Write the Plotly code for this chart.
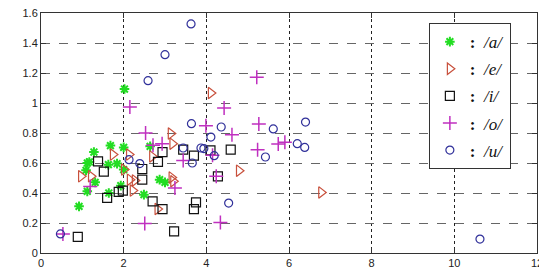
import plotly.graph_objects as go

# /a/ (green asterisks)
a_x = [2.02, 1.68, 2.00, 1.28, 2.64, 1.12, 1.17, 1.63, 1.84, 1.09, 1.31, 2.00, 2.87, 3.00, 1.93, 1.12, 1.64, 2.49, 0.92]
a_y = [1.093, 0.716, 0.704, 0.673, 0.711, 0.600, 0.607, 0.589, 0.596, 0.551, 0.471, 0.556, 0.489, 0.471, 0.449, 0.411, 0.400, 0.389, 0.311]

# /e/ (red right-pointing triangles)
e_x = [3.14, 3.18, 1.74, 2.13, 2.69, 0.97, 1.21, 2.01, 2.15, 3.16, 3.20, 2.22, 2.82, 2.27, 4.11, 4.79, 6.78]
e_y = [0.796, 0.729, 0.656, 0.656, 0.644, 0.511, 0.511, 0.556, 0.489, 0.504, 0.478, 0.416, 0.293, 0.484, 1.067, 0.549, 0.404]

# /i/ (black squares)
i_x = [1.38, 1.52, 1.60, 1.88, 1.98, 0.89, 2.45, 2.45, 2.94, 2.83, 2.70, 2.94, 3.22, 3.44, 3.70, 3.75, 3.70, 4.10, 4.59, 4.28]
i_y = [0.611, 0.542, 0.367, 0.407, 0.416, 0.107, 0.560, 0.489, 0.673, 0.607, 0.344, 0.293, 0.144, 0.689, 0.649, 0.338, 0.293, 0.684, 0.689, 0.511]

# /o/ (magenta plus)
o_x = [2.15, 2.53, 2.71, 2.93, 3.44, 1.19, 3.24, 2.51, 0.53, 5.22, 4.43, 3.99, 5.27, 4.62, 5.74, 5.90, 5.24, 4.15, 4.24, 4.34]
o_y = [0.973, 0.800, 0.718, 0.729, 0.616, 0.444, 0.433, 0.196, 0.127, 1.171, 0.967, 0.849, 0.860, 0.789, 0.727, 0.738, 0.689, 0.651, 0.511, 0.204]

# /u/ (blue circles)
u_x = [3.63, 3.00, 2.59, 3.64, 2.13, 2.39, 3.44, 3.66, 3.87, 0.47, 4.36, 4.11, 5.62, 6.40, 3.94, 6.20, 6.38, 5.43, 4.19, 4.54, 10.62]
u_y = [1.527, 1.322, 1.149, 0.862, 0.622, 0.596, 0.700, 0.600, 0.700, 0.127, 0.840, 0.773, 0.827, 0.873, 0.696, 0.729, 0.704, 0.640, 0.649, 0.333, 0.093]

x_ticks = [0, 2, 4, 6, 8, 10, 12]
y_ticks = [0, 0.2, 0.4, 0.6, 0.8, 1, 1.2, 1.4, 1.6]
y_tick_text = ["0", "0.2", "0.4", "0.6", "0.8", "1", "1.2", "1.4", "1.6"]

series = [
    ("a", a_x, a_y, "asterisk-open", "#22dd22", 8, 2),
    ("e", e_x, e_y, "triangle-right-open", "#c8503c", 10, 1.2),
    ("i", i_x, i_y, "square-open", "#111111", 9, 1.2),
    ("o", o_x, o_y, "cross-thin-open", "#c030c0", 10, 1.5),
    ("u", u_x, u_y, "circle-open", "#30309a", 8, 1.2),
]

fig = go.Figure()
for name, xs, ys, sym, col, sz, lw in series:
    fig.add_trace(go.Scatter(
        x=xs, y=ys, mode="markers", legendgroup=name,
        name="<b>:</b>  <i>/" + name + "/</i>",
        marker=dict(symbol=sym, size=sz, color=col, line=dict(color=col, width=lw)),
    ))

axis_common = dict(
    showline=True, linecolor="#333333", linewidth=1, mirror="ticks",
    ticks="inside", ticklen=5, tickcolor="#333333",
    showgrid=True, gridwidth=1, zeroline=False,
    tickfont=dict(family="Liberation Sans, Arial", size=11, color="#222222"),
    automargin=False, ticklabeloverflow="allow",
)

fig.update_layout(
    width=547, height=268,
    margin=dict(l=33, r=18, t=5, b=23),
    paper_bgcolor="white", plot_bgcolor="white",
    showlegend=True,
    legend=dict(
        x=0.782, y=0.958, xanchor="left", yanchor="top",
        bgcolor="white", bordercolor="#333333", borderwidth=1,
        font=dict(family="Liberation Serif, Times New Roman", size=17, color="#111111"),
        tracegroupgap=2, itemwidth=30,
    ),
    xaxis=dict(range=[0, 12], tickvals=x_ticks, ticktext=[str(v) for v in x_ticks],
               griddash="dot", gridcolor="#222222", **axis_common),
    yaxis=dict(range=[0, 1.6], tickvals=y_ticks, ticktext=y_tick_text,
               griddash="dash", gridcolor="#666666", **axis_common),
)

fig.write_html("out.html")
